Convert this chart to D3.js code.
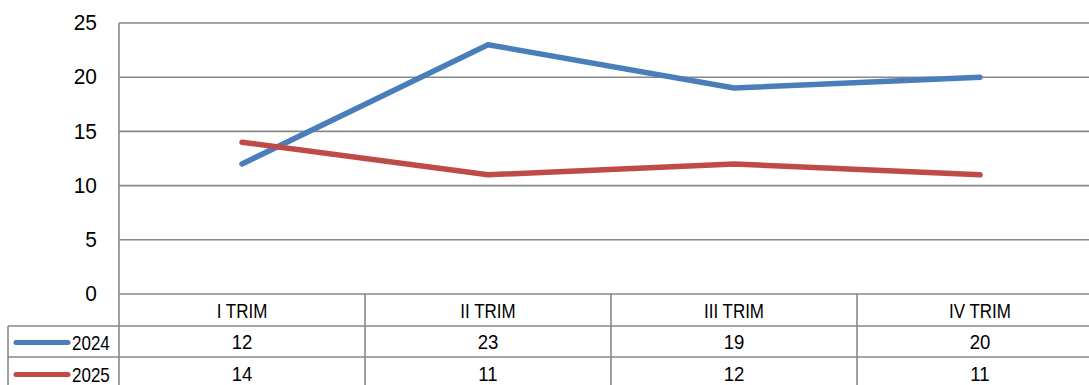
<!DOCTYPE html>
<html>
<head>
<meta charset="utf-8">
<script src="https://cdn.jsdelivr.net/npm/d3@7"></script>
<style>
  html, body { margin: 0; padding: 0; background: #fff; overflow: hidden; }
  svg { display: block; }
  text { font-family: "Liberation Sans", Arial, sans-serif; fill: #000; }
</style>
</head>
<body>
<svg id="chart" width="1089" height="385"></svg>
<script>
// Quarterly values per year
const categories = ["I TRIM", "II TRIM", "III TRIM", "IV TRIM"];
const seriesNames = ["2024", "2025"];
const values2024 = [12, 23, 19, 20];
const values2025 = [14, 11, 12, 11];
const yTicks = [0, 5, 10, 15, 20, 25];

const series = [
  { name: seriesNames[0], values: values2024, color: "#4a7ebb" },
  { name: seriesNames[1], values: values2025, color: "#be4b48" }
];

const plot = { left: 119, right: 1103, top: 23, bottom: 294 };
const table = { left: 8, rowH: 31 };
const grid = "#888888";

const svg = d3.select("#chart");

const x = d3.scaleBand().domain(categories).range([plot.left, plot.right]);
const y = d3.scaleLinear().domain([0, 25]).range([plot.bottom, plot.top]);

// Horizontal gridlines
svg.append("g").selectAll("line").data(yTicks).join("line")
  .attr("x1", plot.left).attr("x2", plot.right)
  .attr("y1", d => y(d)).attr("y2", d => y(d))
  .attr("stroke", grid).attr("stroke-width", 1.6);

// Y tick labels
svg.append("g").selectAll("text").data(yTicks).join("text")
  .attr("transform", d => `translate(97,${y(d)}) scale(0.95,1)`)
  .attr("text-anchor", "end").attr("dominant-baseline", "central")
  .attr("font-size", 22).text(d => d);

// Data table geometry
const rowTop = [plot.bottom, plot.bottom + table.rowH + 1, plot.bottom + 2 * table.rowH + 1];
const tableBottom = rowTop[2] + table.rowH + 2;

const gT = svg.append("g").attr("stroke", grid).attr("stroke-width", 1.6);
// vertical axis line / first column divider
gT.append("line").attr("x1", plot.left).attr("x2", plot.left)
  .attr("y1", plot.top).attr("y2", tableBottom);
// column dividers
categories.slice(1).forEach(c => {
  gT.append("line").attr("x1", x(c)).attr("x2", x(c))
    .attr("y1", rowTop[0]).attr("y2", tableBottom);
});
// right border
gT.append("line").attr("x1", plot.right).attr("x2", plot.right)
  .attr("y1", plot.top).attr("y2", tableBottom);
// legend column left border
gT.append("line").attr("x1", table.left).attr("x2", table.left)
  .attr("y1", rowTop[1]).attr("y2", tableBottom);
// row separators
[rowTop[1], rowTop[2], tableBottom].forEach(r => {
  gT.append("line").attr("x1", table.left).attr("x2", plot.right)
    .attr("y1", r).attr("y2", r);
});

// Category header labels
svg.append("g").selectAll("text").data(categories).join("text")
  .attr("transform", d => `translate(${x(d) + x.bandwidth() / 2},${(rowTop[0] + rowTop[1]) / 2 + 1}) scale(0.87,1)`)
  .attr("text-anchor", "middle").attr("dominant-baseline", "central")
  .attr("font-size", 19.5).text(d => d);

// Series rows: legend key + values
series.forEach((s, i) => {
  const cy = (rowTop[i + 1] + (i === 0 ? rowTop[2] : tableBottom)) / 2 + 1;
  svg.append("line")
    .attr("x1", 16).attr("x2", 68).attr("y1", cy).attr("y2", cy)
    .attr("stroke", s.color).attr("stroke-width", 5).attr("stroke-linecap", "round");
  svg.append("text")
    .attr("transform", `translate(72,${cy}) scale(0.85,1)`)
    .attr("dominant-baseline", "central").attr("font-size", 20).text(s.name);
  svg.append("g").selectAll("text").data(s.values).join("text")
    .attr("transform", (d, j) => `translate(${x(categories[j]) + x.bandwidth() / 2},${cy}) scale(0.93,1)`)
    .attr("text-anchor", "middle").attr("dominant-baseline", "central")
    .attr("font-size", 20).text(d => d);
});

// Lines
const line = d3.line()
  .x((d, j) => x(categories[j]) + x.bandwidth() / 2)
  .y(d => y(d));

svg.append("g").selectAll("path").data(series).join("path")
  .attr("d", d => line(d.values))
  .attr("fill", "none")
  .attr("stroke", d => d.color)
  .attr("stroke-width", 5.5)
  .attr("stroke-linecap", "round")
  .attr("stroke-linejoin", "round");
</script>
</body>
</html>
